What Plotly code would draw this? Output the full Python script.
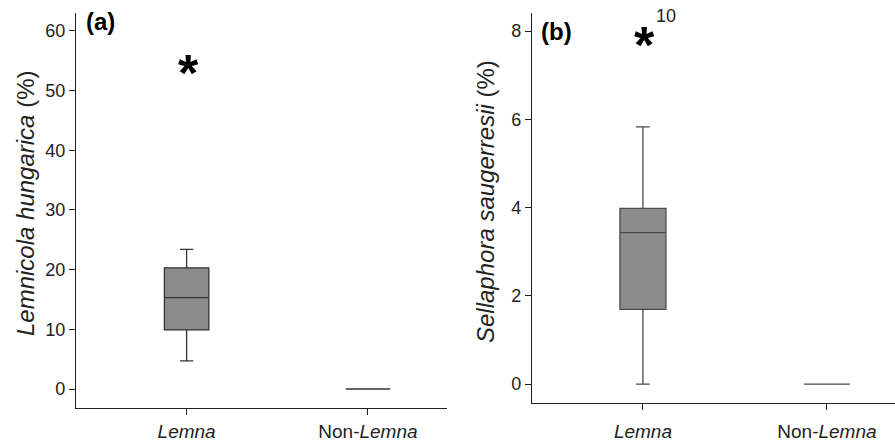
import plotly.graph_objects as go

# ---- data ----
groups = ["Lemna", "Non-Lemna"]
group_labels = ["<i>Lemna</i>", "Non-<i>Lemna</i>"]

# Panel (a) Lemnicola hungarica (%)
a_q1 = [9.9, 0.0]
a_median = [15.3, 0.0]
a_q3 = [20.3, 0.0]
a_low = [4.7, 0.0]
a_high = [23.4, 0.0]
a_outlier = [54.3]
a_ticks = [0, 10, 20, 30, 40, 50, 60]

# Panel (b) Sellaphora saugerresii (%)
b_q1 = [1.69, 0.0]
b_median = [3.43, 0.0]
b_q3 = [3.98, 0.0]
b_low = [0.0, 0.0]
b_high = [5.83, 0.0]
b_outlier = [7.87]
b_outlier_label = "10"
b_ticks = [0, 2, 4, 6, 8]

FONT = "Liberation Sans, Arial, Helvetica, sans-serif"
pos = [0, 1]

fig = go.Figure()

fig.add_trace(go.Box(
    x=pos, q1=a_q1, median=a_median, q3=a_q3,
    lowerfence=a_low, upperfence=a_high,
    width=0.245, whiskerwidth=0.3,
    fillcolor="#8c8c8c", line=dict(color="#333333", width=1.3),
    xaxis="x", yaxis="y", showlegend=False, hoverinfo="skip",
))
fig.add_trace(go.Box(
    x=pos, q1=b_q1, median=b_median, q3=b_q3,
    lowerfence=b_low, upperfence=b_high,
    width=0.25, whiskerwidth=0.3,
    fillcolor="#8c8c8c", line=dict(color="#4a4a4a", width=1.3),
    xaxis="x2", yaxis="y2", showlegend=False, hoverinfo="skip",
))

axis_common = dict(
    showline=True, linecolor="#222222", linewidth=1.3,
    ticks="outside", ticklen=6, tickcolor="#222222", tickwidth=1.2,
    showgrid=False, zeroline=False, automargin=False,
    tickfont=dict(family=FONT, size=18, color="#222222"),
)
xfont = dict(family=FONT, size=19, color="#222222")

def merged(base, extra):
    d = dict(base)
    d.update(extra)
    return d

fig.update_layout(
    width=895, height=441, autosize=False,
    margin=dict(l=0, r=0, t=0, b=0, autoexpand=False),
    plot_bgcolor="white", paper_bgcolor="white",
    xaxis=dict(domain=[76 / 895, 447 / 895], range=[-0.61, 1.436],
               tickvals=pos, ticktext=group_labels, anchor="y",
               **merged(axis_common, dict(tickfont=xfont, ticklabelstandoff=0))),
    yaxis=dict(domain=[(441 - 408) / 441, (441 - 13) / 441], range=[-3.18, 63.0],
               tickvals=a_ticks, anchor="x", **axis_common),
    xaxis2=dict(domain=[532 / 895, 1.0], range=[-0.603, 1.37],
                tickvals=pos, ticktext=group_labels, anchor="y2",
                **merged(axis_common, dict(tickfont=xfont, ticklabelstandoff=5))),
    yaxis2=dict(domain=[(441 - 403) / 441, (441 - 13) / 441], range=[-0.43, 8.41],
                tickvals=b_ticks, anchor="x2", **axis_common),
    font=dict(family=FONT, color="#222222"),
)

annotations = [
    dict(text="<b>(a)</b>", x=84 / 895, y=1 - 21 / 441, xref="paper", yref="paper",
         xanchor="left", yanchor="middle", showarrow=False,
         font=dict(family=FONT, size=24, color="black")),
    dict(text="<b>(b)</b>", x=539 / 895, y=1 - 31 / 441, xref="paper", yref="paper",
         xanchor="left", yanchor="middle", showarrow=False,
         font=dict(family=FONT, size=24, color="black")),
    dict(text="<i>Lemnicola hungarica</i> (%)", x=25 / 895, y=1 - 204 / 441,
         xref="paper", yref="paper", textangle=-90, showarrow=False,
         xanchor="center", yanchor="middle",
         font=dict(family=FONT, size=24, color="#222222")),
    dict(text="<i>Sellaphora saugerresii</i> (%)", x=485 / 895, y=1 - 202 / 441,
         xref="paper", yref="paper", textangle=-90, showarrow=False,
         xanchor="center", yanchor="middle",
         font=dict(family=FONT, size=24, color="#222222")),
    dict(text=b_outlier_label, x=0, y=b_outlier[0], xref="x2", yref="y2",
         xshift=23, yshift=21, showarrow=False,
         font=dict(family=FONT, size=18, color="#222222")),
]
# outliers shown as asterisks (glyph sits high in its box, so shift down)
for v in a_outlier:
    annotations.append(dict(text="<b>*</b>", x=0, y=v, xref="x", yref="y",
                            xshift=2, yshift=-8, showarrow=False,
                            font=dict(family=FONT, size=52, color="black")))
for v in b_outlier:
    annotations.append(dict(text="<b>*</b>", x=0, y=v, xref="x2", yref="y2",
                            xshift=2, yshift=-8, showarrow=False,
                            font=dict(family=FONT, size=52, color="black")))
fig.update_layout(annotations=annotations)

post = (
    "document.documentElement.style.overflow='hidden';"
    "document.body.style.margin='0';document.body.style.overflow='hidden';"
    "var gd=document.getElementById('{plot_id}');"
    "gd.style.position='fixed';gd.style.left='0px';gd.style.top='0px';"
)
fig.write_html("out.html",
               config={"displayModeBar": False, "responsive": False},
               post_script=post)
